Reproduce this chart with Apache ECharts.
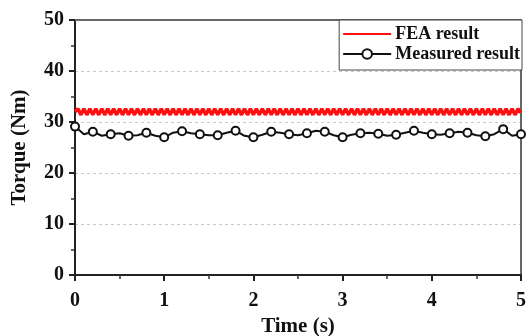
<!DOCTYPE html>
<html>
<head>
<meta charset="utf-8">
<script src="https://cdn.jsdelivr.net/npm/echarts@6/dist/echarts.min.js"></script>
<style>html,body{margin:0;padding:0;background:#fff;}#c{width:529px;height:336px;}</style>
</head>
<body>
<div id="c"></div>
<script>
// FEA result: torque (Nm), sampled every 1/30 s from 0 to 5 s
var feaStep = 1 / 30;
var feaValues = [
32.0,32.6,31.4,32.6,31.4,32.6,31.4,32.6,31.4,32.6,31.4,32.6,31.4,32.6,31.4,32.6,31.4,32.6,31.4,32.6,
31.4,32.6,31.4,32.6,31.4,32.6,31.4,32.6,31.4,32.6,31.4,32.6,31.4,32.6,31.4,32.6,31.4,32.6,31.4,32.6,
31.4,32.6,31.4,32.6,31.4,32.6,31.4,32.6,31.4,32.6,31.4,32.6,31.4,32.6,31.4,32.6,31.4,32.6,31.4,32.6,
31.4,32.6,31.4,32.6,31.4,32.6,31.4,32.6,31.4,32.6,31.4,32.6,31.4,32.6,31.4,32.6,31.4,32.6,31.4,32.6,
31.4,32.6,31.4,32.6,31.4,32.6,31.4,32.6,31.4,32.6,31.4,32.6,31.4,32.6,31.4,32.6,31.4,32.6,31.4,32.6,
31.4,32.6,31.4,32.6,31.4,32.6,31.4,32.6,31.4,32.6,31.4,32.6,31.4,32.6,31.4,32.6,31.4,32.6,31.4,32.6,
31.4,32.6,31.4,32.6,31.4,32.6,31.4,32.6,31.4,32.6,31.4,32.6,31.4,32.6,31.4,32.6,31.4,32.6,31.4,32.6,
31.4,32.6,31.4,32.6,31.4,32.6,31.4,32.6,31.4,32.6,31.8
];
// Measured result: torque (Nm), sampled every 0.1 s from 0 to 5 s (markers every 0.2 s)
var measStep = 0.1;
var measValues = [
29.1,27.6,28.1,27.3,27.6,27.8,27.3,27.4,27.9,27.3,
27.0,27.9,28.2,27.8,27.6,27.4,27.4,27.9,28.3,27.3,
27.0,27.5,28.1,27.9,27.6,27.4,27.8,28.3,28.1,27.4,
27.0,27.5,27.8,27.9,27.7,27.3,27.5,27.9,28.3,27.9,
27.6,27.5,27.8,28.1,27.9,27.4,27.2,27.6,28.6,27.3,
27.6
];
var seriesNames = ['FEA result', 'Measured result'];
var xTickLabels = ['0','1','2','3','4','5'];
var yTickLabels = ['0','10','20','30','40','50'];

var feaData = feaValues.map(function (v, i) { return [+(i * feaStep).toFixed(4), v]; });
var measData = measValues.map(function (v, i) { return [+(i * measStep).toFixed(4), v]; });

var font = '"Liberation Serif", "Times New Roman", serif';
var chart = echarts.init(document.getElementById('c'));
chart.setOption({
  animation: false,
  backgroundColor: '#fff',
  textStyle: { fontFamily: font },
  grid: { left: 75, right: 8, top: 20, bottom: 61, containLabel: false, outerBoundsMode: 'none' },
  legend: {
    orient: 'vertical',
    right: 7, top: 20,
    padding: [5, 2, 7, 3],
    itemGap: 2,
    itemWidth: 48, itemHeight: 12,
    backgroundColor: '#fff',
    borderColor: '#444', borderWidth: 1,
    textStyle: { fontFamily: font, fontWeight: 'bold', fontSize: 18, color: '#111', padding: [0,0,0,-1] },
    data: [
      { name: seriesNames[0], itemStyle: { opacity: 0 } },
      { name: seriesNames[1] }
    ]
  },
  xAxis: [{
    type: 'value', min: 0, max: 5, interval: 1,
    name: 'Time (s)', nameLocation: 'middle', nameGap: 41,
    nameTextStyle: { fontFamily: font, fontWeight: 'bold', fontSize: 21, color: '#111' },
    axisLine: { lineStyle: { color: '#222', width: 2 } },
    axisTick: { inside: false, length: 6, lineStyle: { color: '#222', width: 2 } },
    minorTick: { show: true, splitNumber: 2, length: 4, lineStyle: { color: '#333', width: 1.5 } },
    axisLabel: { fontFamily: font, fontWeight: 'bold', fontSize: 20, color: '#111', margin: 16,
      formatter: function (v) { return xTickLabels[Math.round(v)]; } },
    splitLine: { show: false }
  }, {
    type: 'value', min: 0, max: 5, position: 'top',
    axisLine: { onZero: false, lineStyle: { color: '#666', width: 2 } },
    axisTick: { show: false }, axisLabel: { show: false }, splitLine: { show: false }
  }],
  yAxis: [{
    type: 'value', min: 0, max: 50, interval: 10,
    name: 'Torque (Nm)', nameLocation: 'middle', nameGap: 45,
    nameTextStyle: { fontFamily: font, fontWeight: 'bold', fontSize: 21, color: '#111' },
    axisLine: { show: true, lineStyle: { color: '#222', width: 2 } },
    axisTick: { show: true, inside: false, length: 6, lineStyle: { color: '#222', width: 2 } },
    minorTick: { show: true, splitNumber: 2, length: 4, lineStyle: { color: '#333', width: 1.5 } },
    axisLabel: { fontFamily: font, fontWeight: 'bold', fontSize: 20, color: '#111', margin: 11,
      formatter: function (v) { return yTickLabels[Math.round(v / 10)]; } },
    splitLine: { show: true, lineStyle: { color: '#c8c8c8', type: [3, 3], width: 1 } }
  }, {
    type: 'value', min: 0, max: 50, position: 'right',
    axisLine: { show: true, onZero: false, lineStyle: { color: '#666', width: 2 } },
    axisTick: { show: false }, axisLabel: { show: false }, splitLine: { show: false }
  }],
  series: [{
    name: seriesNames[0], type: 'line', data: feaData,
    symbol: 'none', z: 3,
    lineStyle: { color: '#ff1010', width: 3.5 },
    itemStyle: { color: '#ff1010' }
  }, {
    name: seriesNames[1], type: 'line', data: measData,
    symbol: 'circle', showAllSymbol: true, z: 4,
    symbolSize: function (v, p) { return p && p.dataIndex % 2 === 1 ? 0 : 8; },
    lineStyle: { color: '#111', width: 2 },
    itemStyle: { color: '#fff', borderColor: '#111', borderWidth: 2 }
  }]
});
</script>
</body>
</html>
